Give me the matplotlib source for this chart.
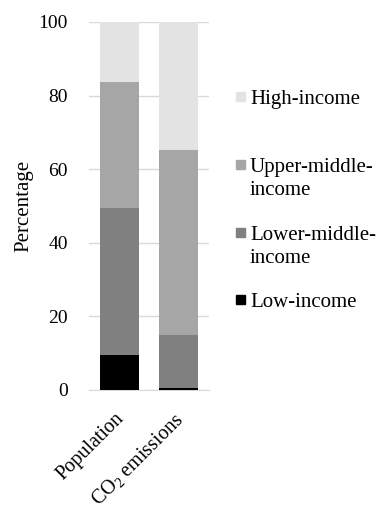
import matplotlib
matplotlib.use("Agg")
import matplotlib.pyplot as plt
import matplotlib.transforms as mtransforms
import numpy as np
from matplotlib.patches import Rectangle

plt.rcParams['font.family'] = ['Liberation Serif', 'DejaVu Serif']
plt.rcParams['mathtext.default'] = 'regular'

categories = ['Population', 'CO$_2$ emissions']
legend_labels = ['Low-income', 'Lower-middle-\nincome', 'Upper-middle-\nincome', 'High-income']
low = [9.5, 0.5]
lower_mid = [40.0, 14.5]
upper_mid = [34.2, 50.3]
high = [16.3, 34.7]
colors = ['#000000', '#808080', '#a6a6a6', '#e3e3e3']

fig = plt.figure(figsize=(3.78, 5.11), dpi=100)
ax = fig.add_axes([0.235, 0.237, 0.318, 0.72])

x = np.arange(len(categories))
series = [low, lower_mid, upper_mid, high]
bottom = np.zeros(len(categories))
for vals, col in zip(series, colors):
	ax.bar(x, vals, bottom=bottom, width=0.66, color=col, zorder=3)
	bottom += np.array(vals)

ax.set_ylim(0, 100)
ax.set_xlim(-0.52, 1.52)
ax.set_yticks(range(0, 101, 20))
ax.yaxis.grid(True, color='#d9d9d9', linewidth=1.0, zorder=0)
for s in ['top', 'right', 'left']:
	ax.spines[s].set_visible(False)
ax.spines['bottom'].set_color('#d9d9d9')
ax.tick_params(axis='both', length=0, labelsize=14, colors='#000000')
ax.tick_params(axis='y', pad=15)
ax.set_xticks(x)
ax.set_xticklabels(categories, rotation=45, ha='right', rotation_mode='anchor', fontsize=14.5)
ax.tick_params(axis='x', pad=8)
shift = mtransforms.ScaledTranslation(-5 / 100, -8 / 100, fig.dpi_scale_trans)
for lab in ax.get_xticklabels():
	lab.set_transform(lab.get_transform() + shift)
ax.set_ylabel('Percentage', fontsize=15, labelpad=4)

# legend drawn by hand so the swatch sits on the first text line
W, H = 378, 511
base = [307, 240, 172, 104]
for lab, col, yb in zip(legend_labels, colors, base):
	fig.patches.append(Rectangle((236 / W, 1 - (yb - 3) / H), 9 / W, 9 / H,
		transform=fig.transFigure, color=col, figure=fig))
	for i, line in enumerate(lab.split('\n')):
		fig.text(250 / W, 1 - (yb + 23 * i) / H, line, fontsize=15,
			va='baseline', ha='left')

fig.savefig('out.png', dpi=100)
